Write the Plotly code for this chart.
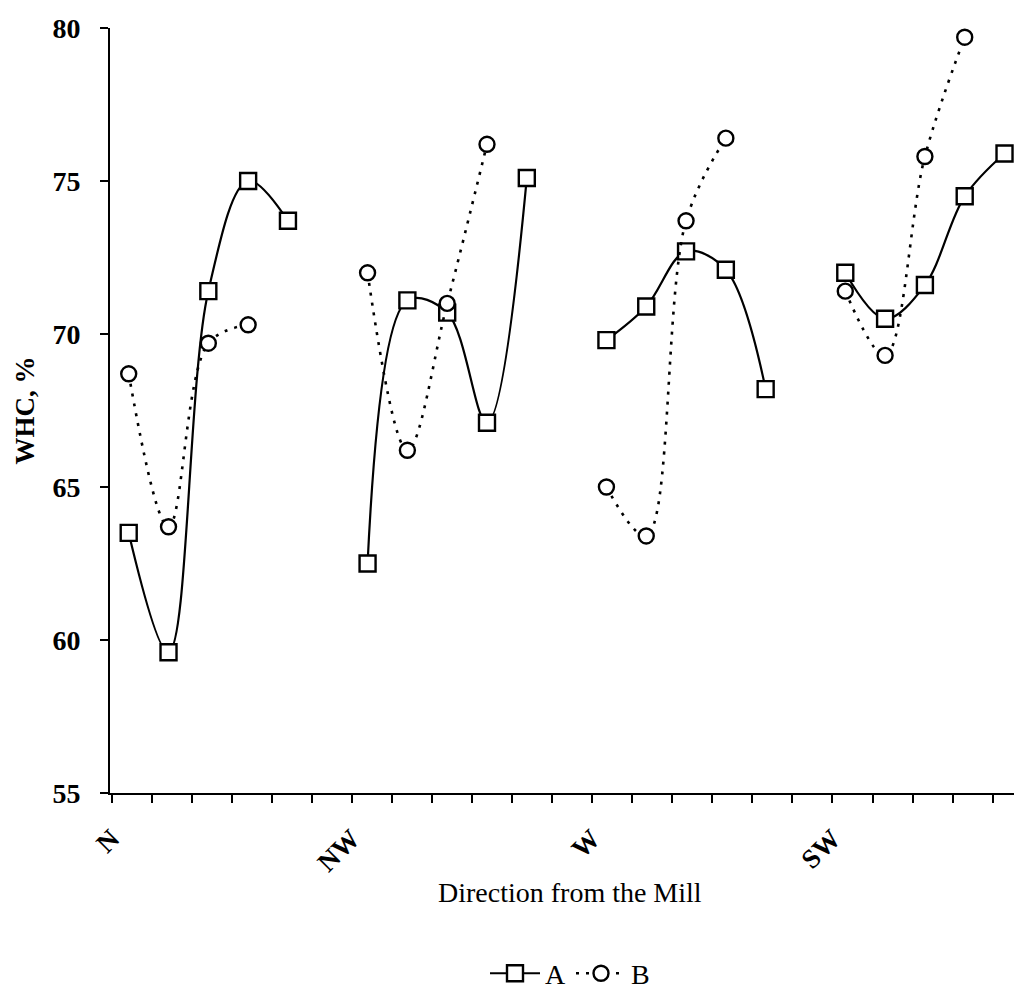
import plotly.graph_objects as go

# ---- data ----
directions = ["N", "NW", "W", "SW"]
a_N = [63.5, 59.6, 71.4, 75.0, 73.7]
a_NW = [62.5, 71.1, 70.7, 67.1, 75.1]
a_W = [69.8, 70.9, 72.7, 72.1, 68.2]
a_SW = [72.0, 70.5, 71.6, 74.5, 75.9]
b_N = [68.7, 63.7, 69.7, 70.3]
b_NW = [72.0, 66.2, 71.0, 76.2]
b_W = [65.0, 63.4, 73.7, 76.4]
b_SW = [71.4, 69.3, 75.8, 79.7]
y_ticks = [55, 60, 65, 70, 75, 80]

GROUP = 6  # categories per direction block (5 sites + gap)


def build(groups):
    xs, ys = [], []
    for g, vals in enumerate(groups):
        for i, v in enumerate(vals):
            xs.append(g * GROUP + i)
            ys.append(v)
        xs.append(None)
        ys.append(None)
    return xs, ys


ax, ay = build([a_N, a_NW, a_W, a_SW])
bx, by = build([b_N, b_NW, b_W, b_SW])

FONT = "Liberation Serif"

fig = go.Figure()
fig.add_trace(go.Scatter(
    x=ax, y=ay, name="A", mode="lines+markers",
    line=dict(color="black", width=2.2, shape="spline", smoothing=1),
    marker=dict(symbol="square", size=16, color="white",
                line=dict(color="black", width=2.4)),
    connectgaps=False,
))
fig.add_trace(go.Scatter(
    x=bx, y=by, name="B", mode="lines+markers",
    line=dict(color="black", width=2.6, shape="spline", smoothing=1,
              dash="3px,7px"),
    marker=dict(symbol="circle", size=15, color="white",
                line=dict(color="black", width=2.4)),
    connectgaps=False,
))

n_ticks = len(directions) * GROUP - 1
tickvals = [j * 1.006 - 0.43 for j in range(n_ticks)]
ticktext = [directions[j // GROUP] if j % GROUP == 0 else "" for j in range(n_ticks)]

fig.update_layout(
    width=1022, height=991,
    margin=dict(l=102, r=0, t=20, b=201),
    paper_bgcolor="white", plot_bgcolor="white",
    font=dict(family=FONT, color="black", size=26),
    showlegend=True,
    legend=dict(orientation="h", x=0.5, xanchor="center", y=-0.236,
                yanchor="middle", font=dict(size=28, family=FONT),
                itemwidth=50, bgcolor="rgba(0,0,0,0)"),
    xaxis=dict(
        range=[-0.47, 22.64], tickmode="array", tickvals=tickvals,
        ticktext=ticktext, tickangle=-45, ticks="outside", ticklen=8,
        tickwidth=1.5, tickcolor="black", showgrid=False, zeroline=False,
        showline=True, linecolor="black", linewidth=2,
        tickfont=dict(size=27, family=FONT, weight="bold"),
        ticklabelstandoff=9,
    ),
    yaxis=dict(
        range=[55, 80], tickmode="array", tickvals=y_ticks,
        ticks="outside", ticklen=8, tickwidth=1.5, tickcolor="black",
        showgrid=False, zeroline=False, showline=True, linecolor="black",
        linewidth=2, tickfont=dict(size=28, family=FONT, weight="bold"),
        ticklabelstandoff=14,
        title=dict(text="WHC, %", font=dict(size=27, family=FONT, weight="bold"),
                   standoff=10),
    ),
    annotations=[dict(
        text="Direction from the Mill", xref="paper", yref="paper",
        x=0.5, y=-0.1299, xanchor="center", yanchor="middle",
        showarrow=False, font=dict(size=28, family=FONT),
    )],
)

fig.write_html("out.html")
